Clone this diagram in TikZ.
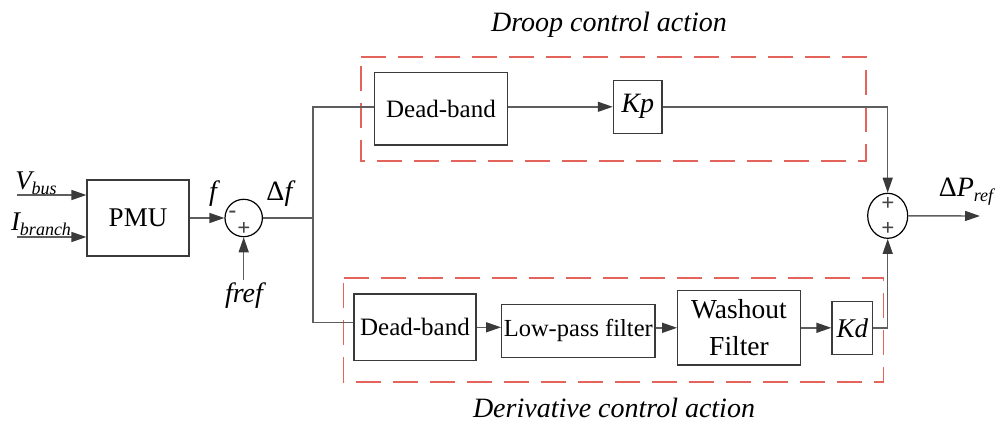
\documentclass[tikz,border=0pt]{standalone}
\usepackage{fontspec}
\setmainfont{Liberation Serif}
\usetikzlibrary{arrows.meta,shapes.geometric}
\definecolor{boxc}{HTML}{3A3A3A}
\definecolor{linec}{HTML}{5E5E5E}
\definecolor{redc}{HTML}{E4635A}
\definecolor{signc}{HTML}{454545}
\begin{document}
\begin{tikzpicture}[x=1pt,y=-1pt,
  blk/.style={draw=boxc, line width=1.2pt, inner sep=0pt, align=center, font=\fontsize{25}{28}\selectfont},
  conn/.style={draw=linec, line width=1.4pt},
  arr/.style={conn, -{Triangle[length=15pt,width=10pt,color=boxc]}},
  grp/.style={draw=redc, line width=1.7pt, line cap=butt, dash pattern=on 25pt off 12pt},
  lbl/.style={font=\fontsize{28}{30}\selectfont\itshape, inner sep=0pt},
  sgn/.style={font=\fontsize{23}{23}\selectfont\bfseries, text=signc, inner sep=0pt},
  sumc/.style={draw=black, line width=1.2pt, ellipse, inner sep=0pt}
]
\useasboundingbox (0,0) rectangle (999,423);

% group frames
\draw[grp] (361,57) -- (866,57) -- (866,161) -- (361,161) -- cycle;
\draw[grp] (343.5,278) -- (883.5,278) -- (883.5,382) -- (343.5,382) -- cycle;
\node[lbl] (droop) at (609,25) {Droop control action};
\node[lbl] (deriv) at (614,408) {Derivative control action};

% blocks
\node[blk, minimum width=102pt, minimum height=76pt, font=\fontsize{27}{30}\selectfont] (pmu) at (138,218) {PMU};
\node[sumc, minimum width=37.4pt, minimum height=37.4pt] (s1) at (243.7,218) {};
\node[blk, minimum width=133.4pt, minimum height=72.7pt] (db1) at (441,108.7) {Dead-band};
\node[blk, minimum width=48.7pt, minimum height=53pt, font=\fontsize{28}{30}\selectfont\itshape] (kp) at (637.7,106.8) {Kp};
\node[blk, minimum width=122pt, minimum height=66.7pt] (db2) at (415,327.3) {Dead-band};
\node[blk, minimum width=153.3pt, minimum height=53pt, font=\fontsize{24.5}{28}\selectfont] (lpf) at (578.3,330.8) {Low-pass filter};
\node[blk, minimum width=122.6pt, minimum height=74.3pt, font=\fontsize{27.5}{37}\selectfont] (wo) at (739,327.8) {Washout\\Filter};
\node[blk, minimum width=40.7pt, minimum height=52.6pt, font=\fontsize{27}{30}\selectfont\itshape] (kd) at (852.3,328) {Kd};
\node[sumc, minimum width=40pt, minimum height=45pt] (s2) at (887.7,215.8) {};

% signs
\node[sgn] (m1) at (232.5,214.5) {-};
\node[sgn] (p1) at (244,229) {+};
\node[sgn] (p2) at (888,204.3) {+};
\node[sgn] (p3) at (888,229.3) {+};

% inputs
\coordinate (vin) at (17,195);
\coordinate (iin) at (17,237);
\draw[arr] (vin) -- (vin -| pmu.west);
\draw[arr] (iin) -- (iin -| pmu.west);
\node[inner sep=0pt, font=\fontsize{27}{30}\selectfont\itshape] (vl) at (36,183) {V\raisebox{-5pt}{\fontsize{18}{18}\selectfont bus}};
\node[inner sep=0pt, font=\fontsize{27}{30}\selectfont\itshape] (il) at (41,224) {I\raisebox{-5pt}{\fontsize{18}{18}\selectfont branch}};

\draw[arr] (pmu.east) -- (s1.west);
\node[lbl] (fl) at (213,194) {f};
\coordinate (fr) at (243.7,280);
\draw[arr] (fr) -- (s1.south);
\node[lbl] (frl) at (244,296) {fref};
\node[inner sep=0pt, font=\fontsize{28}{30}\selectfont] (dfl) at (281,194) {Δ\textit{f}};

% split
\coordinate (sp) at (313,218);
\coordinate (ta) at (313,106.8);
\coordinate (ba) at (313,322.7);
\draw[conn] (s1.east) -- (sp);
\draw[conn] (db1.west |- ta) -- (ta) -- (ba) -- (db2.west |- ba);

% droop path
\draw[arr] (db1.east |- kp.west) -- (kp.west);
\draw[arr] (kp.east) -- (kp.east -| s2.north) -- (s2.north);

% derivative path
\draw[arr] (db2.east) -- (db2.east -| lpf.west);
\draw[arr] (lpf.east |- wo.west) -- (wo.west);
\draw[arr] (wo.east) -- (wo.east -| kd.west);
\draw[arr] (kd.east) -- (kd.east -| s2.south) -- (s2.south);

% output
\coordinate (out) at (980,216);
\draw[arr] (s2.east) -- (out);
\node[inner sep=0pt, font=\fontsize{28}{30}\selectfont] (dpl) at (966,192) {Δ\textit{P}\raisebox{-5pt}{\fontsize{18}{18}\selectfont\itshape ref}};
\end{tikzpicture}
\end{document}
